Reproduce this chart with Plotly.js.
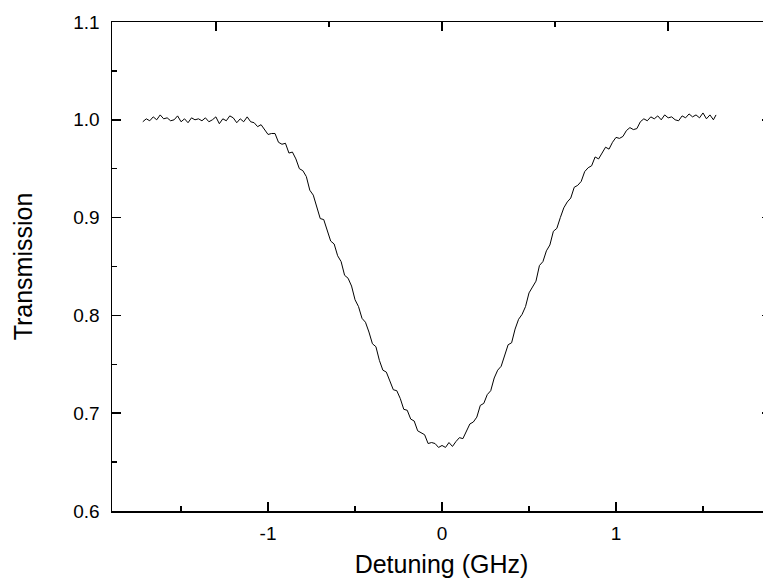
<!DOCTYPE html>
<html>
<head>
<meta charset="utf-8">
<script src="https://cdn.plot.ly/plotly-3.0.1.min.js"></script>
<style>
html,body{margin:0;padding:0;overflow:hidden;background:#fff;}
#chart{width:780px;height:588px;}
</style>
</head>
<body>
<div id="chart"></div>
<script>
// Detuning (GHz)
const detuning = [
-1.72,-1.70,-1.68,-1.66,-1.64,-1.62,-1.60,-1.58,-1.56,-1.54,-1.52,-1.50,-1.48,-1.46,-1.44,-1.42,-1.40,-1.38,-1.36,-1.34,
-1.32,-1.30,-1.28,-1.26,-1.24,-1.22,-1.20,-1.18,-1.16,-1.14,-1.12,-1.10,-1.08,-1.06,-1.04,-1.02,-1.00,-0.98,-0.96,-0.94,
-0.92,-0.90,-0.88,-0.86,-0.84,-0.82,-0.80,-0.78,-0.76,-0.74,-0.72,-0.70,-0.68,-0.66,-0.64,-0.62,-0.60,-0.58,-0.56,-0.54,
-0.52,-0.50,-0.48,-0.46,-0.44,-0.42,-0.40,-0.38,-0.36,-0.34,-0.32,-0.30,-0.28,-0.26,-0.24,-0.22,-0.20,-0.18,-0.16,-0.14,
-0.12,-0.10,-0.08,-0.06,-0.04,-0.02,0.00,0.02,0.04,0.06,0.08,0.10,0.12,0.14,0.16,0.18,0.20,0.22,0.24,0.26,
0.28,0.30,0.32,0.34,0.36,0.38,0.40,0.42,0.44,0.46,0.48,0.50,0.52,0.54,0.56,0.58,0.60,0.62,0.64,0.66,
0.68,0.70,0.72,0.74,0.76,0.78,0.80,0.82,0.84,0.86,0.88,0.90,0.92,0.94,0.96,0.98,1.00,1.02,1.04,1.06,
1.08,1.10,1.12,1.14,1.16,1.18,1.20,1.22,1.24,1.26,1.28,1.30,1.32,1.34,1.36,1.38,1.40,1.42,1.44,1.46,
1.48,1.50,1.52,1.54,1.56,1.575
];
// Transmission
const transmission = [
0.998,1.001,0.999,1.003,1.000,1.005,1.001,1.002,0.999,1.000,1.004,0.998,1.001,0.997,1.002,1.000,1.001,0.999,1.002,0.998,
1.000,1.003,0.996,1.001,0.999,1.004,1.002,0.997,1.001,0.998,1.003,0.998,0.997,0.993,0.995,0.990,0.985,0.986,0.986,0.977,
0.975,0.976,0.966,0.967,0.960,0.950,0.948,0.942,0.928,0.923,0.910,0.899,0.898,0.886,0.876,0.873,0.861,0.855,0.841,0.838,
0.830,0.816,0.809,0.797,0.793,0.783,0.771,0.768,0.754,0.744,0.742,0.733,0.724,0.723,0.715,0.704,0.703,0.694,0.692,0.682,
0.680,0.678,0.669,0.670,0.669,0.665,0.667,0.665,0.670,0.666,0.671,0.675,0.674,0.681,0.689,0.691,0.696,0.708,0.710,0.719,
0.723,0.736,0.744,0.748,0.759,0.770,0.772,0.786,0.796,0.801,0.809,0.823,0.829,0.835,0.851,0.855,0.866,0.872,0.886,0.889,
0.900,0.910,0.916,0.920,0.931,0.933,0.937,0.947,0.951,0.953,0.962,0.960,0.966,0.972,0.970,0.977,0.982,0.981,0.983,0.989,
0.992,0.990,0.991,0.998,1.001,0.999,1.003,1.001,1.004,1.000,1.005,1.002,1.003,1.000,0.999,1.004,1.002,1.006,1.003,1.005,
1.002,1.007,1.001,1.005,1.000,1.005
];
// Tick labels
const xTickVals = [-1, 0, 1];
const xTickText = ['-1', '0', '1'];

const fontFamily = 'Arial, "Liberation Sans", sans-serif';
const lineCol = '#000';

const traces = [
  {x: detuning, y: transmission, type: 'scatter', mode: 'lines',
   line: {color: '#000', width: 1}, hoverinfo: 'skip', showlegend: false},
  {x: [0], y: [0.5], xaxis: 'x2', type: 'scatter', mode: 'markers',
   marker: {opacity: 0}, hoverinfo: 'skip', showlegend: false}
];

const layout = {
  width: 780, height: 588,
  margin: {l: 112, r: 9, t: 22, b: 77},
  paper_bgcolor: '#fff', plot_bgcolor: '#fff',
  font: {family: fontFamily, color: '#000'},
  showlegend: false,
  xaxis: {
    range: [-1.897, 1.891], showgrid: false, zeroline: false,
    showline: true, linecolor: lineCol, linewidth: 1.5,
    ticks: 'inside', ticklen: 9, tickwidth: 1.5, tickcolor: lineCol,
    tickmode: 'array', tickvals: xTickVals, ticktext: xTickText,
    tickfont: {size: 19, family: fontFamily},
    ticklabelstandoff: 5,
    minor: {ticks: 'inside', ticklen: 5, tickwidth: 1.5, tickcolor: lineCol, dtick: 0.5, tick0: 0, showgrid: false},
    title: {text: 'Detuning (GHz)', font: {size: 25, family: fontFamily}, standoff: 12}
  },
  xaxis2: {
    overlaying: 'x', side: 'top', anchor: 'y',
    range: [-1.460, 1.456], showgrid: false, zeroline: false,
    showline: true, linecolor: lineCol, linewidth: 1.5,
    ticks: 'inside', ticklen: 9, tickwidth: 1.5, tickcolor: lineCol,
    tick0: 0, dtick: 1, showticklabels: false,
    minor: {ticks: 'inside', ticklen: 5, tickwidth: 1.5, tickcolor: lineCol, dtick: 0.5, showgrid: false}
  },
  yaxis: {
    range: [0.6, 1.1], showgrid: false, zeroline: false,
    showline: true, linecolor: lineCol, linewidth: 1.5, mirror: 'ticks',
    ticks: 'inside', ticklen: 9, tickwidth: 1.5, tickcolor: lineCol,
    tick0: 0.6, dtick: 0.1, tickformat: '.1f', tickfont: {size: 19, family: fontFamily},
    ticklabelstandoff: 7,
    minor: {ticks: 'inside', ticklen: 5, tickwidth: 1.5, tickcolor: lineCol, dtick: 0.05, showgrid: false},
    title: {text: 'Transmission', font: {size: 25, family: fontFamily}, standoff: 33}
  }
};

Plotly.newPlot('chart', traces, layout, {displayModeBar: false, staticPlot: true});
</script>
</body>
</html>
